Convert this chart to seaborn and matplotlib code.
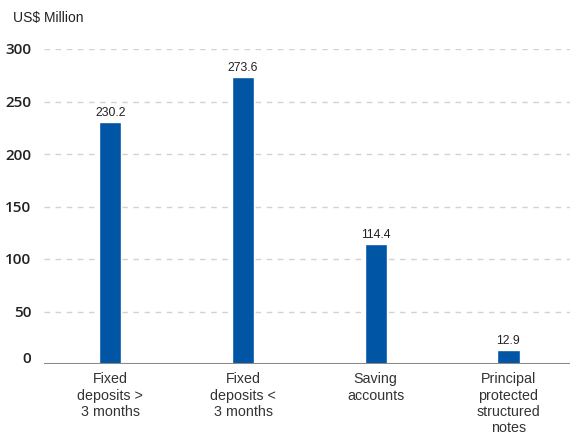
import matplotlib
matplotlib.use("Agg")
import matplotlib.pyplot as plt
import matplotlib.transforms as mtransforms
import seaborn as sns
import pandas as pd

categories = ["Fixed\ndeposits >\n3 months", "Fixed\ndeposits <\n3 months",
              "Saving\naccounts", "Principal\nprotected\nstructured\nnotes"]
values = [230.2, 273.6, 114.4, 12.9]
value_labels = ["230.2", "273.6", "114.4", "12.9"]
y_ticks = [0, 50, 100, 150, 200, 250, 300]

df = pd.DataFrame({"category": categories, "value": values})

sns.set_style("white")
plt.rcParams["font.family"] = ["Liberation Sans", "DejaVu Sans"]

fig = plt.figure(figsize=(5.70, 4.37), dpi=100)
ax = fig.add_axes([44 / 570, 1 - 364 / 437, 530.7 / 570, 315 / 437])

sns.barplot(data=df, x="category", y="value", color="#0055A5", saturation=1,
            width=0.168, ax=ax)

ax.set_xlim(-0.5, 3.5)
ax.set_ylim(0, 300)

for i, (v, lab) in enumerate(zip(values, value_labels)):
    ax.text(i, v + 3, lab, ha="center", va="bottom", fontsize=8.8, color="#222222")

for t in y_ticks[1:]:
    ax.axhline(t, color="#d2d2d2", lw=1, ls=(0, (4, 4)), zorder=0)
ax.axhline(0, color="#8a8a8a", lw=1.5, zorder=3)

for s in ax.spines.values():
    s.set_visible(False)

ax.set_yticks(y_ticks)
ax.set_yticklabels([str(t) for t in y_ticks])
ax.tick_params(axis="y", length=0, pad=9, labelsize=11, labelcolor="#222222")
for lbl in ax.get_yticklabels():
    lbl.set_family(["Open Sans", "DejaVu Sans"])
    lbl.set_fontweight("semibold")
# the zero label sits a little above the baseline
zero_lbl = ax.get_yticklabels()[0]
zero_lbl.set_transform(zero_lbl.get_transform()
                       + mtransforms.ScaledTranslation(0, 5 / 72, fig.dpi_scale_trans))

ax.tick_params(axis="x", length=0, pad=6, labelsize=10.3, labelcolor="#333333")
for lbl in ax.get_xticklabels():
    lbl.set_linespacing(1.2)
ax.set_xlabel("")
ax.set_ylabel("")

fig.text(13 / 570, 1 - 18 / 437, "US$ Million", fontsize=10, color="#222222",
         ha="left", va="center")

fig.savefig("out.png", dpi=100)
